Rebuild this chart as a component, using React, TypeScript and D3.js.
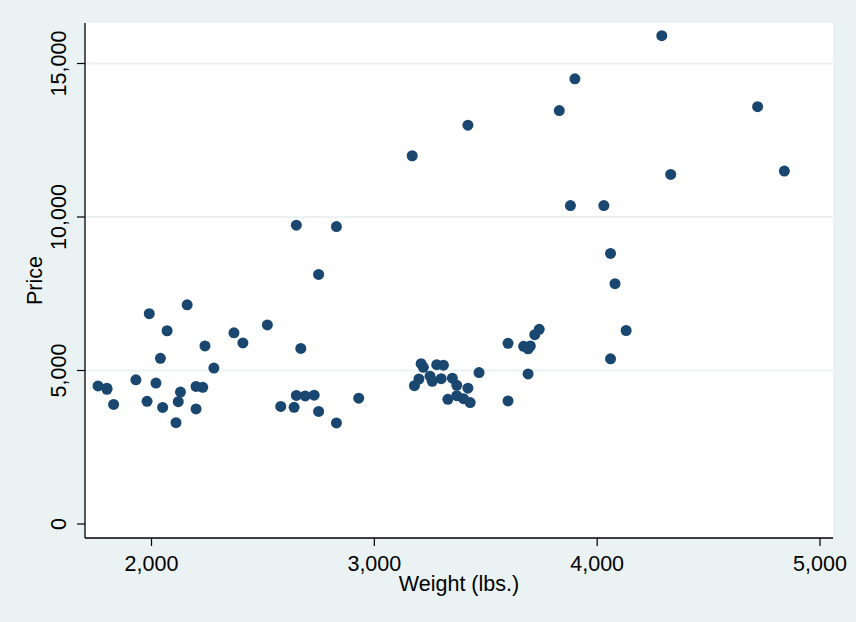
import React from "react";
import * as d3 from "d3";

const weight = [2930,3350,2640,3250,4080,3670,2230,3280,3880,3400,4330,3900,4290,2110,3690,3180,3220,2750,3430,2120,3600,3600,3740,1800,2650,4840,4720,3830,2580,4060,3720,3370,4130,2830,4060,3310,3300,3690,3370,2730,4030,3260,1800,2200,2520,3330,3700,3470,3210,3200,3420,2690,2830,2070,2650,2370,2020,2280,2750,2130,2240,1760,1980,3420,1830,2050,2410,2200,2670,2160,2040,1930,1990,3170];
const price = [4099,4749,3799,4816,7827,5788,4453,5189,10372,4082,11385,14500,15906,3299,5705,4504,5104,3667,3955,3984,4010,5886,6342,4389,4187,11497,13594,13466,3829,5379,6165,4516,6303,3291,8814,5172,4733,4890,4181,4195,10371,4647,4425,4482,6486,4060,5798,4934,5222,4723,4424,4172,9690,6295,9735,6229,4589,5079,8129,4296,5799,4499,3995,12990,3895,3798,5899,3748,5719,7140,5397,4697,6850,11995];
const xTicks = [2000, 3000, 4000, 5000];
const yTicks = [0, 5000, 10000, 15000];

const W = 856, H = 622;
const L = 85, R = 833, T = 23, B = 538;

export default function App() {
  const x = d3.scaleLinear().domain([2000, 5000]).range([151.5, 820]);
  const y = d3.scaleLinear().domain([0, 15000]).range([524, 63.5]);
  const fmt = d3.format(",");
  const font = "'Liberation Sans', Arial, sans-serif";
  const fs = 21.5;
  return (
    <svg width={W} height={H} style={{ position: "absolute", left: 0, top: 0 }}>
      <rect x={0} y={0} width={W} height={H} fill="#EAF2F3" />
      <rect x={L} y={T} width={R - L} height={B - T} fill="#ffffff" />
      {yTicks.filter(t => t > 0).map(t => (
        <line key={"g" + t} x1={L} x2={R} y1={y(t)} y2={y(t)} stroke="#EAF2F3" strokeWidth={2} />
      ))}
      {weight.map((w, i) => (
        <circle key={i} cx={x(w)} cy={y(price[i])} r={5.5} fill="#1A476F" />
      ))}
      <line x1={L} x2={L} y1={T} y2={B} stroke="#000" strokeWidth={1.3} />
      <line x1={L} x2={R} y1={B} y2={B} stroke="#000" strokeWidth={1.3} />
      {yTicks.map(t => (
        <g key={"y" + t}>
          <line x1={L - 8} x2={L} y1={y(t)} y2={y(t)} stroke="#000" strokeWidth={1.2} />
          <text transform={`translate(${66},${y(t)}) rotate(-90)`} textAnchor="middle" fontFamily={font} fontSize={fs} fill="#000">{fmt(t)}</text>
        </g>
      ))}
      {xTicks.map(t => (
        <g key={"x" + t}>
          <line x1={x(t)} x2={x(t)} y1={B} y2={B + 8} stroke="#000" strokeWidth={1.2} />
          <text x={x(t)} y={571} textAnchor="middle" fontFamily={font} fontSize={fs} fill="#000">{fmt(t)}</text>
        </g>
      ))}
      <text x={(L + R) / 2} y={591} textAnchor="middle" fontFamily={font} fontSize={fs} fill="#000">Weight (lbs.)</text>
      <text transform={`translate(${42},${(T + B) / 2}) rotate(-90)`} textAnchor="middle" fontFamily={font} fontSize={fs} fill="#000">Price</text>
    </svg>
  );
}
